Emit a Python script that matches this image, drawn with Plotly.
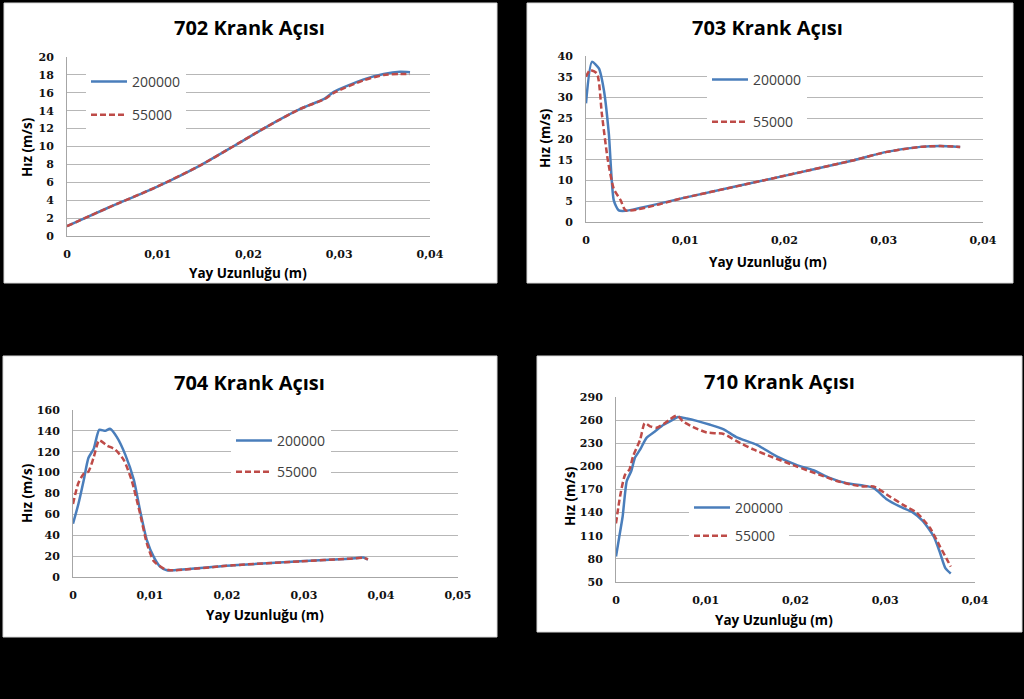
import plotly.graph_objects as go

W, H = 1024, 699

# ---- data (x in m, y in m/s) ----
x702_a = [0, 0.0044, 0.0099, 0.0147, 0.0183, 0.022, 0.0257, 0.0284, 0.0294, 0.0327, 0.0349, 0.0367, 0.0378]
y702_a = [1.1, 3.1, 5.5, 7.9, 10.0, 12.2, 14.2, 15.35, 16.1, 17.5, 18.1, 18.35, 18.3]
x702_b = [0, 0.0044, 0.0099, 0.0147, 0.0183, 0.022, 0.0257, 0.0284, 0.0294, 0.0327, 0.0349, 0.0367, 0.0378]
y702_b = [1.1, 3.1, 5.5, 7.9, 10.0, 12.2, 14.2, 15.3, 16.0, 17.4, 18.0, 18.1, 18.1]

x703_a = [0, 0.0006, 0.0013, 0.0018, 0.0023, 0.0028, 0.0033, 0.004, 0.0102, 0.0203, 0.027, 0.0303, 0.0337, 0.0357, 0.0377]
y703_a = [28.6, 38.6, 37.0, 31.8, 21.3, 5.2, 2.8, 2.7, 6.0, 11.3, 14.9, 16.9, 18.1, 18.3, 18.1]
x703_b = [0, 0.0004, 0.0011, 0.0016, 0.0022, 0.0028, 0.0035, 0.004, 0.0102, 0.0203, 0.027, 0.0303, 0.0337, 0.0357, 0.0377]
y703_b = [35.0, 36.6, 35.8, 26.0, 14.9, 8.0, 5.2, 2.8, 6.0, 11.3, 14.9, 16.9, 18.1, 18.3, 18.1]

x704_a = [0, 0.0007, 0.0014, 0.002, 0.0027, 0.0034, 0.0042, 0.0048, 0.0057, 0.0068, 0.0079, 0.0087,
          0.0096, 0.0105, 0.0113, 0.0122, 0.013, 0.0208, 0.0295, 0.036, 0.0377, 0.0383]
y704_a = [51, 70, 93, 114, 123, 141, 140, 142, 134, 117, 93, 64, 35, 19, 10, 6.4, 6.4, 11.2, 15, 17.6, 18.6, 16.6]
x704_b = [0, 0.0007, 0.0014, 0.002, 0.0027, 0.0034, 0.0044, 0.0055, 0.0066, 0.0076, 0.0087, 0.0096,
          0.0105, 0.0118, 0.0126, 0.0208, 0.0295, 0.036, 0.0377, 0.0383]
y704_b = [70, 90, 99, 101, 115, 131, 126, 122, 112, 93, 61, 32, 15, 8, 6.4, 11.2, 15, 17.6, 18.4, 17]

x710_a = [0, 0.00037, 0.00074, 0.0012, 0.0017, 0.0021, 0.0027, 0.0034, 0.0043, 0.0053, 0.0064, 0.0069,
          0.0079, 0.009, 0.0105, 0.012, 0.0134, 0.0157, 0.0179, 0.0201, 0.022, 0.0238, 0.0257, 0.0276,
          0.0287, 0.0302, 0.0316, 0.0331, 0.0342, 0.0354, 0.0361, 0.0367, 0.0373]
y710_a = [83, 109, 135, 181, 194, 211, 222, 237, 245, 254, 261, 264, 262, 259, 254, 248, 238, 228, 213,
          202, 195, 185, 178, 175, 172, 157, 148, 140, 129, 109, 88, 68, 61]
x710_b = [0, 0.00045, 0.001, 0.0015, 0.0019, 0.0027, 0.0032, 0.0038, 0.0045, 0.0053, 0.006, 0.0068,
          0.0075, 0.0086, 0.0101, 0.012, 0.0134, 0.0153, 0.0172, 0.0201, 0.0227, 0.0246, 0.0264, 0.0276,
          0.0287, 0.0305, 0.032, 0.0335, 0.035, 0.0361, 0.0368, 0.0373]
y710_b = [126, 161, 189, 196, 213, 235, 256, 252, 250, 255, 261, 266, 258, 251, 244, 242, 233, 222, 213,
          200, 189, 181, 176, 174, 174, 161, 150, 140, 120, 96, 81, 70]

names = ["200000", "55000"]
titles = ["702 Krank Açısı", "703 Krank Açısı", "704 Krank Açısı", "710 Krank Açısı"]

BLUE = "#4a7ebb"
RED = "#be4b48"


def px(x):
    return x / W


def py(y):
    return 1 - y / H


fig = go.Figure()

# panel boxes (pixels): left, top, right, bottom
panels = [(4, 3, 497, 283), (527, 3, 1013, 283), (3, 356, 497, 637), (537, 356, 1022, 632)]
# plot areas (pixels)
plots = [(67, 57, 430, 236), (586, 56, 983, 222), (73, 410, 458, 577), (616, 397, 975, 582)]
# white legend boxes that hide the gridlines
legboxes = [(81, 65, 193, 137), (699, 62, 817, 142), (230, 420, 333, 485), (676, 495, 803, 550)]
xranges = [[0, 0.04], [0, 0.04], [0, 0.05], [0, 0.04]]
yranges = [[0, 20], [0, 40], [0, 160], [50, 290]]
ydticks = [2, 5, 20, 30]

series = [
    (x702_a, y702_a, x702_b, y702_b),
    (x703_a, y703_a, x703_b, y703_b),
    (x704_a, y704_a, x704_b, y704_b),
    (x710_a, y710_a, x710_b, y710_b),
]

# legend: (line start x, first item y, item spacing)
legpos = [(92, 82, 33), (713, 80, 42), (237, 441, 31), (695, 508, 28)]

title_pos = [(249, 28), (767, 28), (249, 382), (779, 381)]
xtitle_pos = [(248, 273), (768, 262), (265, 615), (774, 620)]
ytitle_pos = [(27, 147), (545, 138), (27, 493), (570, 496)]

tick_font = dict(family="DejaVu Serif", size=11, color="#111111", weight="bold")

for i in range(4):
    sfx = "" if i == 0 else str(i + 1)
    leg = "legend" + sfx
    l, t, r, b = panels[i]
    fig.add_shape(type="rect", xref="paper", yref="paper",
                  x0=px(l), x1=px(r), y0=py(b), y1=py(t),
                  fillcolor="white", line=dict(color="#d9d9d9", width=1), layer="below")
    l, t, r, b = legboxes[i]
    fig.add_shape(type="rect", xref="paper", yref="paper",
                  x0=px(l), x1=px(r), y0=py(b), y1=py(t),
                  fillcolor="white", line=dict(width=0), layer="between")

    xa, ya, xb, yb = series[i]
    fig.add_trace(go.Scatter(x=xa, y=ya, name=names[0], mode="lines",
                             line=dict(color=BLUE, width=2.5, shape="spline", smoothing=0.6),
                             xaxis="x" + sfx, yaxis="y" + sfx, legend=leg, legendgroup="a" + sfx))
    fig.add_trace(go.Scatter(x=xb, y=yb, name=names[1], mode="lines",
                             line=dict(color=RED, width=2.5, dash="6px,3px", shape="spline", smoothing=0.6),
                             xaxis="x" + sfx, yaxis="y" + sfx, legend=leg, legendgroup="b" + sfx))

    pl, pt, pr, pb = plots[i]
    fig.update_layout(**{
        "xaxis" + sfx: dict(domain=[px(pl), px(pr)], range=xranges[i], dtick=0.01, tick0=0,
                            anchor="y" + sfx, showgrid=False, zeroline=False,
                            showline=True, linecolor="#a6a6a6", linewidth=1,
                            ticks="", ticklabelstandoff=8, tickfont=tick_font),
        "yaxis" + sfx: dict(domain=[py(pb), py(pt)], range=yranges[i], dtick=ydticks[i], tick0=yranges[i][0],
                            anchor="x" + sfx, showgrid=True, gridcolor="#b7b7b7", gridwidth=1,
                            zeroline=False, showline=True, linecolor="#a6a6a6", linewidth=1,
                            ticks="", ticklabelstandoff=10, tickfont=tick_font),
        leg: dict(x=px(legpos[i][0] - 6), y=py(legpos[i][1] - 16), xanchor="left", yanchor="top",
                  bgcolor="white", borderwidth=0, tracegroupgap=legpos[i][2] - 21, itemwidth=36,
                  font=dict(family="Open Sans", size=14, color="#404040")),
    })

    tx, ty = title_pos[i]
    fig.add_annotation(text=titles[i], x=px(tx), y=py(ty), xref="paper", yref="paper",
                       xanchor="center", yanchor="middle", showarrow=False,
                       font=dict(family="Open Sans", size=20, color="black", weight="bold"))
    tx, ty = xtitle_pos[i]
    fig.add_annotation(text="Yay Uzunluğu (m)", x=px(tx), y=py(ty), xref="paper", yref="paper",
                       xanchor="center", yanchor="middle", showarrow=False,
                       font=dict(family="Open Sans", size=13.5, color="black", weight="bold"))
    tx, ty = ytitle_pos[i]
    fig.add_annotation(text="Hız (m/s)", x=px(tx), y=py(ty), xref="paper", yref="paper", textangle=-90,
                       xanchor="center", yanchor="middle", showarrow=False,
                       font=dict(family="Open Sans", size=13.5, color="black", weight="bold"))

fig.update_layout(width=W, height=H, margin=dict(l=0, r=0, t=0, b=0, autoexpand=False),
                  paper_bgcolor="black", plot_bgcolor="rgba(0,0,0,0)",
                  separators=", ", showlegend=True)

# drop the default page margin so the 1024x699 figure fills the window exactly
fig.write_html("out.html", config={"displayModeBar": False},
               post_script="document.body.style.margin='0';document.body.style.overflow='hidden';")
